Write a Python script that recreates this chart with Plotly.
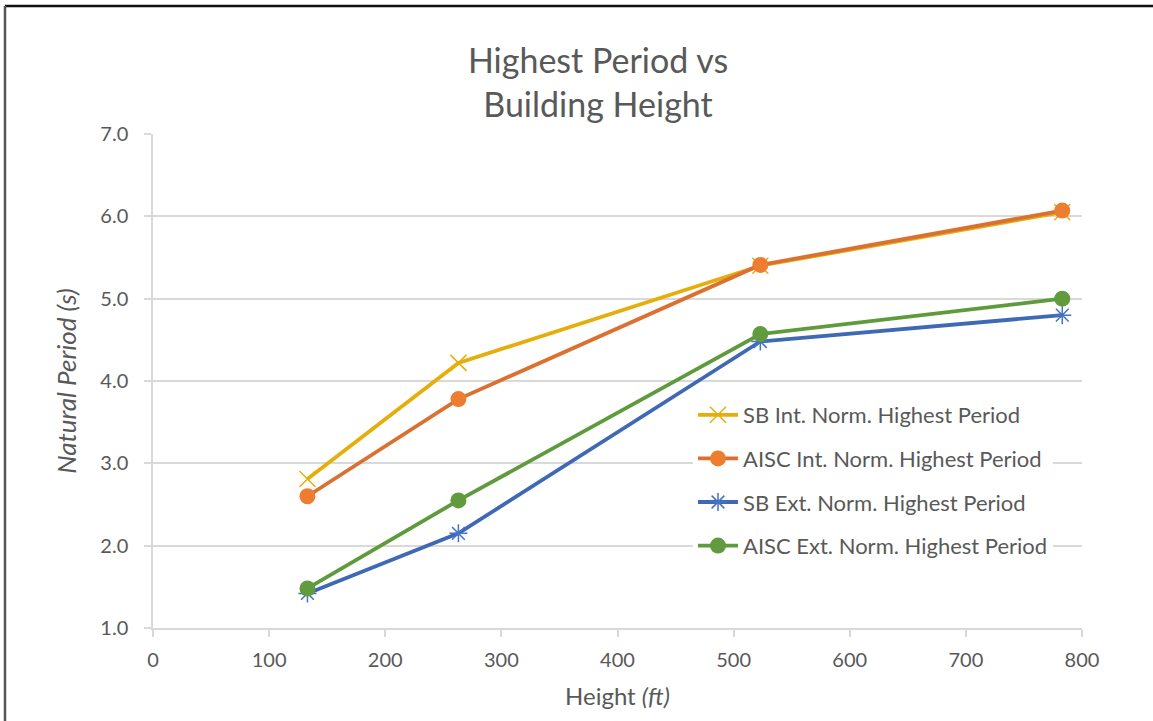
import plotly.graph_objects as go

heights = [133, 263, 523, 783]
sb_int = [2.81, 4.22, 5.40, 6.05]
aisc_int = [2.60, 3.78, 5.41, 6.07]
sb_ext = [1.42, 2.15, 4.48, 4.80]
aisc_ext = [1.48, 2.55, 4.57, 5.00]

names = ["SB Int. Norm. Highest Period", "AISC Int. Norm. Highest Period",
         "SB Ext. Norm. Highest Period", "AISC Ext. Norm. Highest Period"]

W, H = 1153, 721
L, R, T, B = 153, 71, 134, 93
pw, ph = W - L - R, H - T - B

fig = go.Figure()
fig.add_trace(go.Scatter(x=heights, y=sb_int, name=names[0], mode="lines+markers",
                         line=dict(color="#E5AE0A", width=3.8),
                         marker=dict(symbol="x-thin-open", size=16, color="#E5AE0A",
                                     line=dict(color="#E5AE0A", width=1.5)),
                         legendgroup="a"))
fig.add_trace(go.Scatter(x=heights, y=aisc_int, name=names[1], mode="lines+markers",
                         line=dict(color="#DB7130", width=3.8),
                         marker=dict(symbol="circle", size=16, color="#ED7D31"),
                         legendgroup="b"))
fig.add_trace(go.Scatter(x=heights, y=sb_ext, name=names[2], mode="lines+markers",
                         line=dict(color="#3F69B5", width=3.8),
                         marker=dict(symbol="asterisk-open", size=15, color="#4472C4",
                                     line=dict(color="#4472C4", width=1.5)),
                         legendgroup="c"))
fig.add_trace(go.Scatter(x=heights, y=aisc_ext, name=names[3], mode="lines+markers",
                         line=dict(color="#5F9A3C", width=3.8),
                         marker=dict(symbol="circle", size=16, color="#629B3E"),
                         legendgroup="d"))

grey = "#595959"
fig.update_layout(
    width=W, height=H,
    margin=dict(l=L, r=R, t=T, b=B),
    paper_bgcolor="white", plot_bgcolor="white",
    font=dict(family="Lato, Open Sans, sans-serif", color=grey, size=18),
    title=dict(text="Highest Period vs<br>Building Height", x=598 / W, xanchor="center",
               y=1 - 73 / H, yanchor="top",
               font=dict(size=34, color=grey)),
    xaxis=dict(range=[0, 800], dtick=100, tick0=0, showgrid=False,
               showline=True, linecolor="#D9D9D9", linewidth=1.5,
               ticks="outside", ticklen=7, tickcolor="#D9D9D9", tickwidth=1.5,
               ticklabelstandoff=6,
               tickfont=dict(size=20, color=grey),
               title=dict(text="Height <i>(ft)</i>", font=dict(size=24, color=grey), standoff=18),
               zeroline=False),
    yaxis=dict(range=[1, 7], dtick=1, tick0=1, tickformat=".1f",
               showgrid=True, gridcolor="#D9D9D9", gridwidth=1.5,
               showline=True, linecolor="#D9D9D9", linewidth=1.5,
               ticks="outside", ticklen=7, tickcolor="#D9D9D9", tickwidth=1.5,
               ticklabelstandoff=12,
               tickfont=dict(size=20, color=grey),
               title=dict(text="<i>Natural Period (s)</i>", font=dict(size=26, color=grey), standoff=16),
               zeroline=False),
    legend=dict(x=(693 - L) / pw, y=(H - B - 394) / ph, xanchor="left", yanchor="top",
                bgcolor="white", borderwidth=0, tracegroupgap=12,
                font=dict(size=22, color=grey), itemwidth=40),
    showlegend=True,
)

# outer chart frame (top and left edges visible in the reference)
fig.add_shape(type="line", xref="paper", yref="paper",
              x0=(5 - L) / pw, x1=(W - L) / pw, y0=(H - B - 6) / ph, y1=(H - B - 6) / ph,
              line=dict(color="#111111", width=2.5))
fig.add_shape(type="line", xref="paper", yref="paper",
              x0=(5 - L) / pw, x1=(5 - L) / pw, y0=(H - B - 6) / ph, y1=(H - B - H) / ph,
              line=dict(color="#555555", width=2.5))

fig.write_html("out.html", config={"displayModeBar": False},
               post_script="document.body.style.margin='0';")
